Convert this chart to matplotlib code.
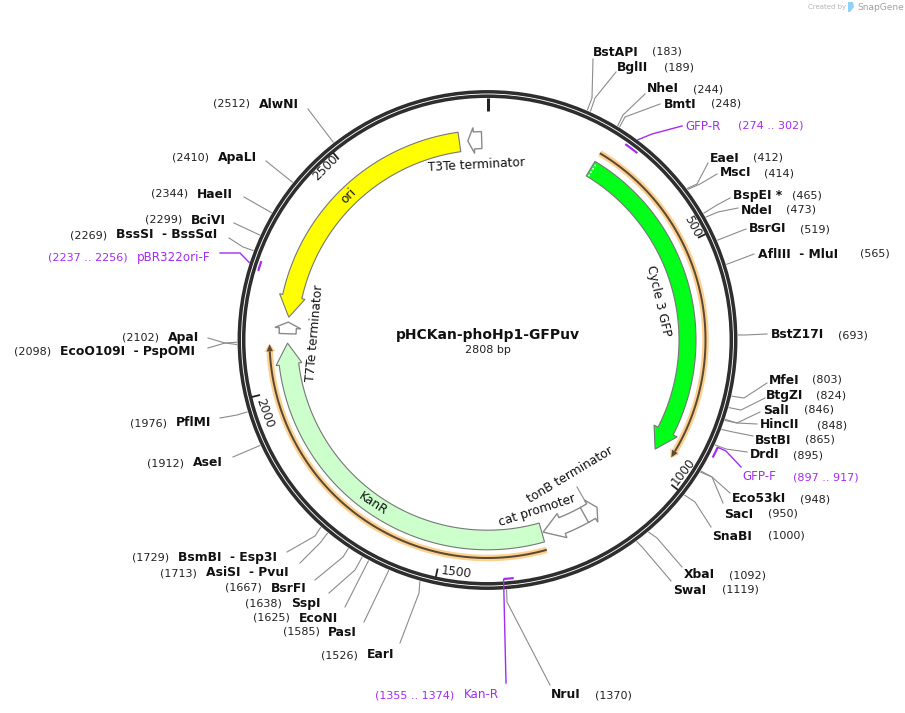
import numpy as np
import matplotlib
matplotlib.use("Agg")
import matplotlib.pyplot as plt
from matplotlib.patches import Polygon, Circle

plt.rcParams['font.family'] = ['DejaVu Sans']

# ---------- data ----------
plasmid_name = "pHCKan-phoHp1-GFPuv"
plasmid_size = 2808
tick_positions = [500, 1000, 1500, 2000, 2500]

site_names = ["BstAPI", "BglII", "NheI", "BmtI", "EaeI", "MscI", "BspEI *", "NdeI", "BsrGI",
              "AflIII  - MluI", "BstZ17I", "MfeI", "BtgZI", "SalI", "HincII", "BstBI", "DrdI",
              "Eco53kI", "SacI", "SnaBI", "XbaI", "SwaI", "NruI", "EarI", "PasI", "EcoNI",
              "SspI", "BsrFI", "AsiSI  - PvuI", "BsmBI  - Esp3I", "AseI", "PflMI", "ApaI",
              "EcoO109I  - PspOMI", "BssSI  - BssSαI", "BciVI", "HaeII", "ApaLI", "AlwNI"]
site_positions = [183, 189, 244, 248, 412, 414, 465, 473, 519, 565, 693, 803, 824, 846, 848, 865,
                  895, 948, 950, 1000, 1092, 1119, 1370, 1526, 1585, 1625, 1638, 1667, 1713, 1729,
                  1912, 1976, 2102, 2098, 2269, 2299, 2344, 2410, 2512]

primer_names = ["GFP-R", "GFP-F", "Kan-R", "pBR322ori-F"]
primer_starts = [274, 897, 1355, 2237]
primer_ends = [302, 917, 1374, 2256]

big_names = ["Cycle 3 GFP", "ori", "KanR"]
big_tails = [242, 2745, 1281]
big_tips = [960, 2157, 2099]
big_colors = ["#00ff19", "#ffff00", "#ccffcc"]

small_names = ["T3Te terminator", "T7Te terminator", "cat promoter", "tonB terminator"]
small_tails = [2795, 2120, 1176, 1178]
small_tips = [2764, 2146, 1278, 1145]

binding_tails = [242, 1281]
binding_tips = [956, 2097]

# ---------- layout (pixels) ----------
W, H = 905, 713
CX, CY = 487.5, 340.0
R_FEAT, HALF, WING = 200.0, 8.5, 13.0
R_BIND = 218.0
R_LEAD = 251.0
big_half = {"Cycle 3 GFP": 8.5, "ori": 9.8, "KanR": 9.8}
primer_radius = {"GFP-R": 239.5, "GFP-F": 254.0, "Kan-R": 239.5, "pBR322ori-F": 239.5}

# name: name_x, number_x, y, line end, line elbow
site_layout = {
    "BstAPI": (593, 652, 52, (593, 59), (592, 98)),
    "BglII": (617, 664, 67, (616, 72), (595, 98)),
    "NheI": (647, 693, 89, (645, 94), (623, 115)),
    "BmtI": (664, 711, 104, (660, 104), (625, 117)),
    "EaeI": (710, 753, 158, (708, 163), (697, 184)),
    "MscI": (720, 764, 173, (717, 174), (700, 184)),
    "BspEI *": (733, 792, 195, (730, 198), (717, 205)),
    "NdeI": (741, 786, 210, (738, 208), (718, 212)),
    "BsrGI": (749, 800, 229, (746, 229), None),
    "AflIII  - MluI": (758, 860, 254, (754, 254), None),
    "BstZ17I": (771, 838, 335, (767, 334), (745, 335)),
    "MfeI": (769, 812, 380, (767, 383), (744, 398)),
    "BtgZI": (766, 816, 395, (765, 398), (741, 410)),
    "SalI": (763, 804, 410, (760, 412), (737, 423)),
    "HincII": (760, 817, 425, (757, 424), (737, 423)),
    "BstBI": (755, 805, 440, (753, 436), (733, 432)),
    "DrdI": (750, 793, 455, (747, 452), (726, 449)),
    "Eco53kI": (732, 800, 499, (730, 493), (712, 477)),
    "SacI": (724, 768, 514, (723, 503), (712, 477)),
    "SnaBI": (712, 768, 536, (711, 527), (695, 502)),
    "XbaI": (684, 729, 575, (682, 567), (657, 538)),
    "SwaI": (673, 722, 590, (671, 581), (643, 548)),
    "NruI": (551, 595, 695, (550, 685), (507, 602)),
    "EarI": (367, 321, 655, (400, 643), (419, 593)),
    "PasI": (328, 283, 632, (364, 622), None),
    "EcoNI": (299, 253, 618, (345, 607), None),
    "SspI": (291, 245, 603, (329, 593), (355, 570)),
    "BsrFI": (271, 225, 588, (315, 580), (343, 557)),
    "AsiSI  - PvuI": (206, 160, 573, (300, 563), (320, 543)),
    "BsmBI  - Esp3I": (178, 132, 558, (287, 552), (315, 536)),
    "AseI": (193, 147, 463, (233, 457), None),
    "PflMI": (176, 130, 423, (220, 418), (237, 415)),
    "ApaI": (168, 122, 337, (208, 338), (225, 343)),
    "EcoO109I  - PspOMI": (60, 14, 352, (208, 348), (225, 343)),
    "BssSI  - BssSαI": (116, 70, 235, (229, 238), (243, 247)),
    "BciVI": (191, 145, 220, (234, 223), None),
    "HaeII": (197, 151, 194, (244, 197), None),
    "ApaLI": (218, 172, 157, (266, 161), None),
    "AlwNI": (259, 213, 104, (308, 109), None),
}
# name: name_x, number_x, y, line end, line elbow
primer_layout = {
    "GFP-R": (685, 738, 126, (682, 126), (652, 134)),
    "GFP-F": (742, 793, 477, (741, 467), (726, 451)),
    "Kan-R": (464, 375, 695, (506, 683), None),
    "pBR322ori-F": (137, 48, 257, (220, 253), (240, 253)),
}
# name: x, y, rotation
feature_text = {
    "Cycle 3 GFP": (659, 301, -77),
    "ori": (349, 196, 45),
    "KanR": (373, 504, -33),
    "T3Te terminator": (476, 165, 3),
    "T7Te terminator": (315, 333, 85),
    "cat promoter": (537, 510, 18),
    "tonB terminator": (570, 475, 31),
}
tick_text = {500: (693, 226, -62), 1000: (683, 472, 52), 1500: (456, 572, -7),
             2000: (265, 413, -70), 2500: (325, 168, 45)}

PURPLE = "#a32cf2"
LEAD = "#8c8c8c"
RING = "#2e2e2e"
TXT = "#222222"
PX = 0.72


def theta(bp):
    return 2 * np.pi * np.asarray(bp, dtype=float) / plasmid_size


def xy(bp, r):
    t = theta(bp)
    return CX + r * np.sin(t), CY - r * np.cos(t)


def arc(a, b, r, n=80):
    x, y = xy(np.linspace(a, b, n), r)
    return np.column_stack([x, y])


def head_bp(length_px, r=R_FEAT):
    return length_px / (2 * np.pi * r) * plasmid_size


fig = plt.figure(figsize=(W / 100, H / 100), dpi=100)
ax = fig.add_axes([0, 0, 1, 1])
ax.set_xlim(0, W)
ax.set_ylim(H, 0)
ax.axis("off")


def arrow(tail, tip, color, edge, head_px, lw=0.8, half=HALF, wing=WING, z=3):
    sign = 1 if tip > tail else -1
    base = tip - sign * head_bp(head_px)
    outer = arc(tail, base, R_FEAT + half)
    inner = arc(base, tail, R_FEAT - half)
    pts = [outer,
           np.array([xy(base, R_FEAT + wing)]),
           np.array([xy(tip, R_FEAT)]),
           np.array([xy(base, R_FEAT - wing)]),
           inner]
    ax.add_patch(Polygon(np.vstack(pts), closed=True, fc=color, ec=edge, lw=lw, zorder=z))


# backbone
ax.add_patch(Circle((CX, CY), 248.2, fc="none", ec=RING, lw=3.5 * PX, zorder=2))
ax.add_patch(Circle((CX, CY), 243.8, fc="none", ec=RING, lw=3.5 * PX, zorder=2))

# ticks
for bp in [0] + tick_positions:
    inner_r = 229.0 if bp == 0 else 234.0
    x, y = xy([bp, bp], np.array([inner_r, 242.5]))
    ax.plot(x, y, color="#222222", lw=(3 if bp == 0 else 1.8) * PX, solid_capstyle="butt", zorder=3)
for bp in tick_positions:
    tx, ty, rot = tick_text[bp]
    ax.text(tx, ty, str(bp), fontsize=8.7, rotation=rot, ha="center", va="center",
            rotation_mode="anchor", color=TXT)

# binding regions with orange halo
for tail, tip in zip(binding_tails, binding_tips):
    sign = 1 if tip > tail else -1
    base = tip - sign * head_bp(7, R_BIND)
    a = arc(tail, base, R_BIND)
    ax.plot(a[:, 0], a[:, 1], color="#fdd08f", lw=6.5 * PX, solid_capstyle="butt", zorder=2.5)
    for half_w, col in ((5.5, "#fdd08f"), (3.2, "#5a4a35")):
        extra = 2 if col == "#fdd08f" else 0
        tri = [xy(base, R_BIND + half_w), xy(tip + sign * extra, R_BIND), xy(base, R_BIND - half_w)]
        ax.add_patch(Polygon(np.array(tri), fc=col, ec="none", zorder=2.6 if extra else 2.8))
    ax.plot(a[:, 0], a[:, 1], color="#5a4a35", lw=2 * PX, solid_capstyle="butt", zorder=2.7)

# main features
for name, tail, tip, color in zip(big_names, big_tails, big_tips, big_colors):
    arrow(tail, tip, color, "#777777", 21, half=big_half[name])

# hatched start of the GFP feature
x, y = xy([big_tails[0] + 5] * 2, np.array([R_FEAT - HALF + 1, R_FEAT + HALF - 1]))
ax.plot(x, y, color="white", lw=1.6 * PX, ls=(0, (1.2, 1.2)), zorder=4)

# small open features
small_heads = [6, 6, 20, 7]
for tail, tip, hp in zip(small_tails, small_tips, small_heads):
    arrow(tail, tip, "white", "#8a8a8a", hp, lw=1.0)
for name in big_names + small_names:
    tx, ty, rot = feature_text[name]
    ax.text(tx, ty, name, fontsize=8.8, rotation=rot, ha="center", va="center",
            rotation_mode="anchor", color="#111111", zorder=5)

# tonB leader
ax.plot([577, 585], [487, 501], color=LEAD, lw=0.8, zorder=2)

# restriction sites
for name, pos in zip(site_names, site_positions):
    nx, numx, y, end, elbow = site_layout[name]
    rx, ry = xy(pos, R_LEAD)
    px = [rx] + ([elbow[0]] if elbow else []) + [end[0]]
    py = [ry] + ([elbow[1]] if elbow else []) + [end[1]]
    ax.plot(px, py, color=LEAD, lw=0.8, zorder=1)
    ax.text(nx, y, name, fontsize=8.9, fontweight="bold", ha="left", va="center", color="#111111")
    ax.text(numx, y, f"({pos})", fontsize=8, ha="left", va="center", color=TXT)

# primers
for name, s, e in zip(primer_names, primer_starts, primer_ends):
    nx, numx, y, end, elbow = primer_layout[name]
    a = arc(s, e, primer_radius[name], 10)
    ax.plot(a[:, 0], a[:, 1], color=PURPLE, lw=2.2 * PX, solid_capstyle="butt", zorder=4)
    if name == "Kan-R":
        rx, ry = xy(e, 240)
    elif name == "GFP-F":
        rx, ry = xy(s, 254)
    else:
        rx, ry = xy((s + e) / 2, 250.5)
    px = [rx] + ([elbow[0]] if elbow else []) + [end[0]]
    py = [ry] + ([elbow[1]] if elbow else []) + [end[1]]
    ax.plot(px, py, color=PURPLE, lw=1.0, zorder=4 if name == "Kan-R" else 1)
    ax.text(nx, y, name, fontsize=8.6, ha="left", va="center", color=PURPLE)
    ax.text(numx, y, f"({s} .. {e})", fontsize=8, ha="left", va="center", color=PURPLE)

# centre
ax.text(488, 335, plasmid_name, fontsize=10, fontweight="bold", ha="center", va="center", color="#111111")
ax.text(488, 350, f"{plasmid_size} bp", fontsize=8, ha="center", va="center", color=TXT)

# watermark
ax.text(808, 7.5, "Created by", fontsize=5, ha="left", va="center", color="#b5b5b5")
ax.text(857, 7.5, "SnapGene", fontsize=6.5, ha="left", va="center", color="#a0a0a0")
ax.add_patch(Polygon([(848, 2), (853, 2), (854, 7), (850, 12), (848, 12)], fc="#8fd3f4", ec="none"))

fig.savefig("out.png", dpi=100, facecolor="white")
